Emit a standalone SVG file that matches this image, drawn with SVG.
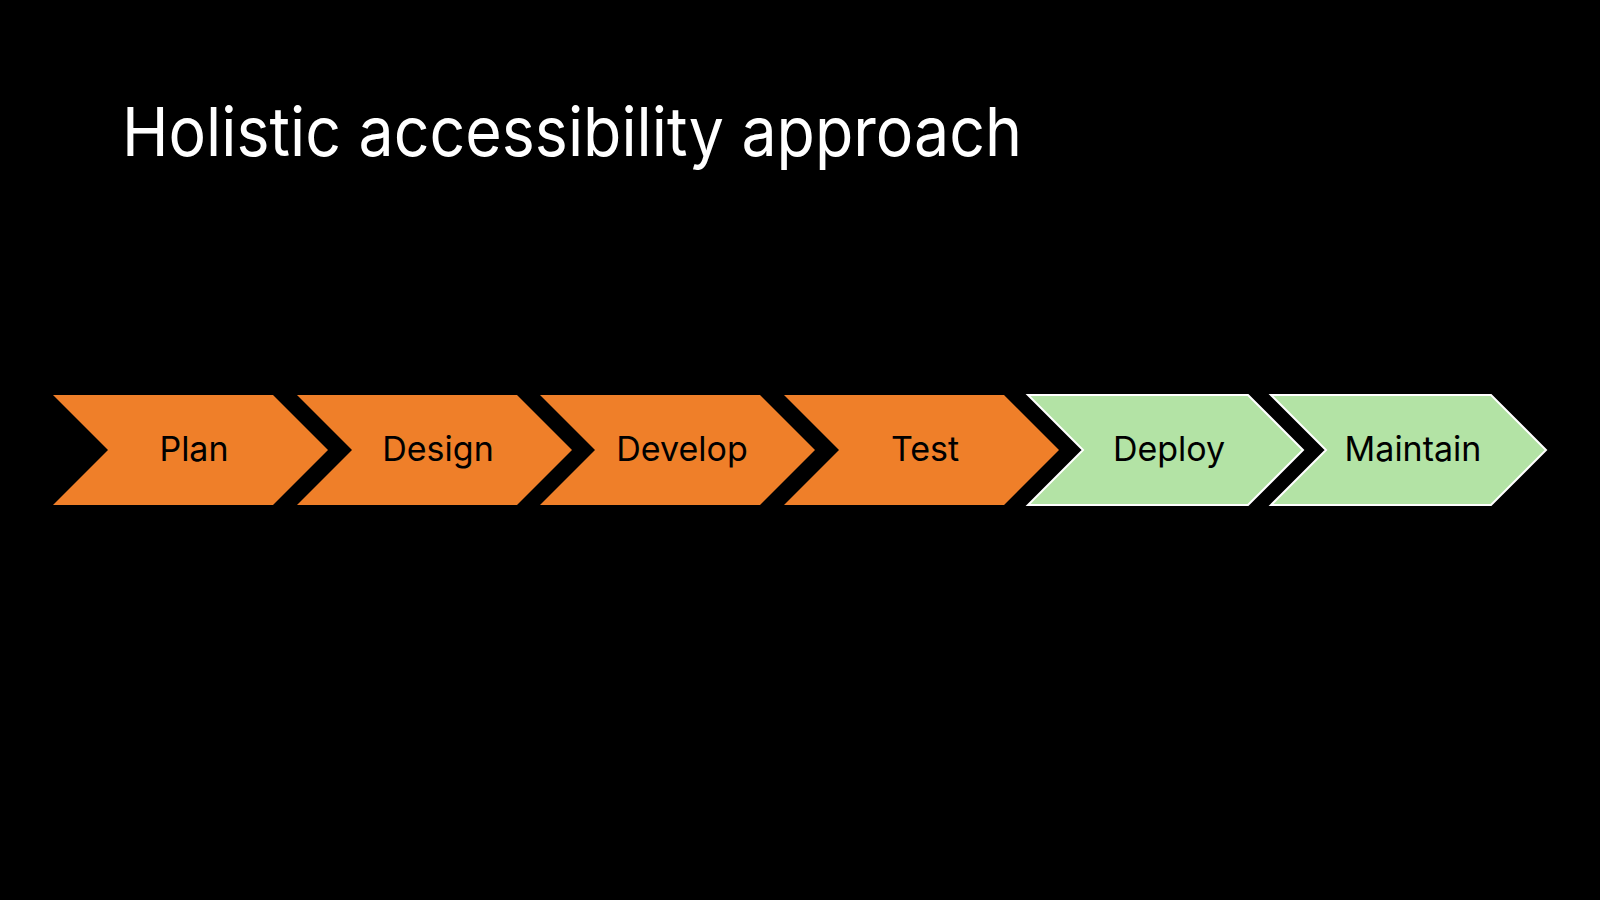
<svg xmlns="http://www.w3.org/2000/svg" width="1600" height="900" viewBox="0 0 1600 900">
<style>
.bg{fill:#000}
.title{font-family:Inter,"Liberation Sans",sans-serif;font-size:68px;fill:#fff}
.o{fill:#EF7F29}
.g{fill:#B3E3A5;stroke:#fff;stroke-width:2}
.lbl{font-family:Inter,"Liberation Sans",sans-serif;font-size:34px;fill:#000;text-anchor:middle}
</style>
<defs>
<path id="chev" d="M0,395 L220,395 L275,450 L220,505 L0,505 L55,450 Z"/>
</defs>
<rect class="bg" x="0" y="0" width="1600" height="900"/>
<text class="title" x="122" y="156" textLength="900" lengthAdjust="spacingAndGlyphs">Holistic accessibility approach</text>
<g id="connectors"></g>
<g id="plan"><use href="#chev" class="o" x="53"/><text class="lbl" x="194" y="461">Plan</text></g>
<g id="design"><use href="#chev" class="o" x="297"/><text class="lbl" x="438" y="461">Design</text></g>
<g id="develop"><use href="#chev" class="o" x="540"/><text class="lbl" x="682" y="461">Develop</text></g>
<g id="test"><use href="#chev" class="o" x="784"/><text class="lbl" x="925" y="461">Test</text></g>
<g id="deploy"><use href="#chev" class="g" x="1028"/><text class="lbl" x="1169" y="461">Deploy</text></g>
<g id="maintain"><use href="#chev" class="g" x="1271"/><text class="lbl" x="1413" y="461">Maintain</text></g>
</svg>
